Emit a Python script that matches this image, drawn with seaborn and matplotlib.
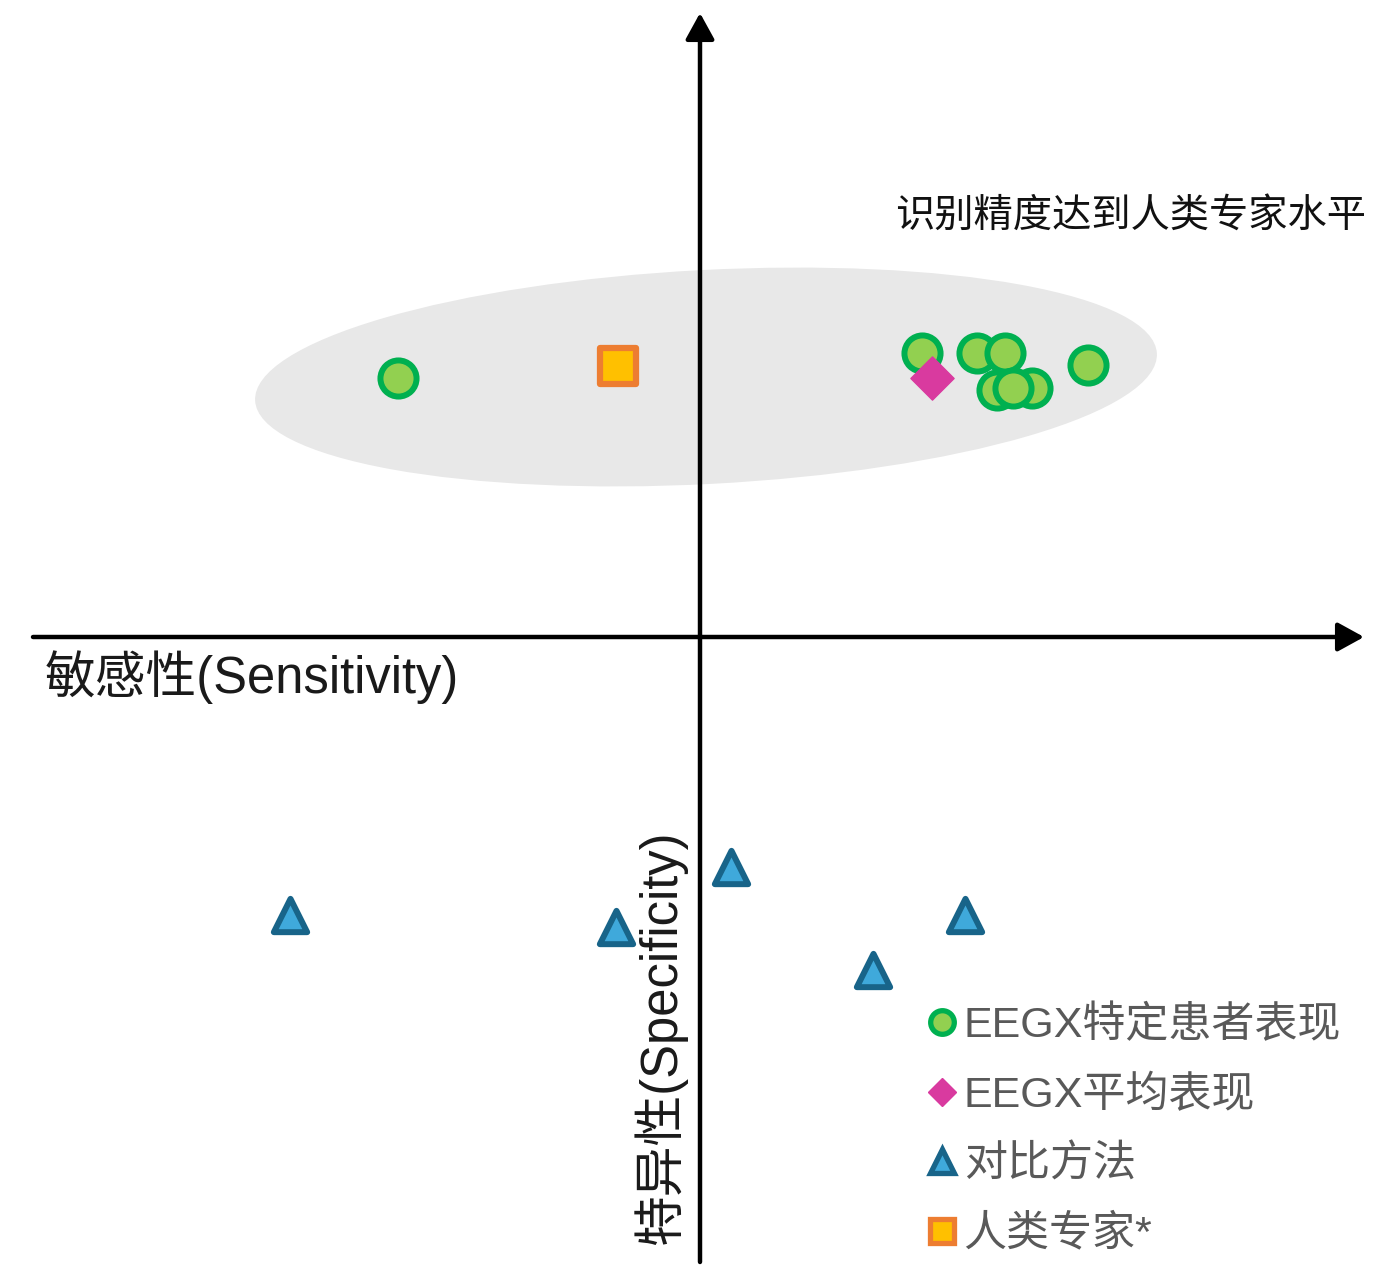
import numpy as np
import pandas as pd
import matplotlib
matplotlib.use('Agg')
import matplotlib.pyplot as plt
import seaborn as sns
from matplotlib.patches import Ellipse
from matplotlib.lines import Line2D

# positions relative to the origin of the two axes (sensitivity -> x, specificity -> y)
eegx_sens = [-302, 222, 277, 305, 297, 332, 313, 388]
eegx_spec = [259, 284, 284, 284, 247, 249, 249, 272]
mean_sens = [232]
mean_spec = [259]
cmp_sens = [-410, -84, 31, 173, 265]
cmp_spec = [-278, -290, -230, -333, -278]
human_sens = [-82]
human_spec = [271]

labels = ['EEGX特定患者表现', 'EEGX平均表现', '对比方法', '人类专家*']
title_txt = '识别精度达到人类专家水平'
xlab = '敏感性(Sensitivity)'
ylab = '特异性(Specificity)'

sns.set_style('white')
plt.rcParams['font.family'] = ['Liberation Sans', 'Noto Sans CJK SC']

fig = plt.figure(figsize=(13.97, 12.88), dpi=100)
ax = fig.add_axes([0, 0, 1, 1])
ax.set_xlim(-700, 697)
ax.set_ylim(-651, 637)
ax.axis('off')

# grey zone
ax.add_patch(Ellipse((6, 260), 903, 214, angle=3, color='#e8e8e8', zorder=0, lw=0))

# axes arrows
arr = dict(arrowstyle='-|>,head_length=0.4,head_width=0.22', lw=3.2, color='black',
           mutation_scale=40, shrinkA=0, shrinkB=0)
ax.annotate('', xy=(664, 0), xytext=(-667, 0), arrowprops=arr, zorder=2)
ax.annotate('', xy=(0, 624), xytext=(0, -625), arrowprops=arr, zorder=2)

sns.scatterplot(x=eegx_sens, y=eegx_spec, marker='o', s=26**2, color='#92d050',
                edgecolor='#00b050', linewidth=4.3, ax=ax, zorder=3)
sns.scatterplot(x=mean_sens, y=mean_spec, marker='D', s=22**2, color='#d93a9f',
                edgecolor='#d93a9f', linewidth=1, ax=ax, zorder=4)
sns.scatterplot(x=human_sens, y=human_spec, marker='s', s=26**2, color='#ffc000',
                edgecolor='#ed7d31', linewidth=4.5, ax=ax, zorder=3)
sns.scatterplot(x=cmp_sens, y=cmp_spec, marker='^', s=24**2, color='#3fa9db',
                edgecolor='#186489', linewidth=4.3, ax=ax, zorder=3)

ax.text(195, 421, title_txt, fontsize=28.3, color='#111111', ha='left', va='center')
ax.text(-655, -40, xlab, fontsize=36.5, color='#1a1a1a', ha='left', va='center')
ax.text(-40, -608, ylab, fontsize=36.5, color='#1a1a1a', rotation=90, ha='center', va='bottom')

handles = [
    Line2D([], [], ls='', marker='o', ms=17, mfc='#92d050', mec='#00b050', mew=3.8),
    Line2D([], [], ls='', marker='D', ms=14, mfc='#d93a9f', mec='#d93a9f', mew=1),
    Line2D([], [], ls='', marker='^', ms=17, mfc='#3fa9db', mec='#186489', mew=3.8),
    Line2D([], [], ls='', marker='s', ms=17, mfc='#ffc000', mec='#ed7d31', mew=3.8),
]
leg = ax.legend(handles, labels, loc='upper left', bbox_to_anchor=(0.662, 0.219),
                frameon=False, fontsize=31, handlelength=0.8, handletextpad=0.1,
                labelspacing=0.68, borderpad=0, borderaxespad=0)
for t in leg.get_texts():
    t.set_color('#595959')

plt.savefig('out.png', dpi=100)
